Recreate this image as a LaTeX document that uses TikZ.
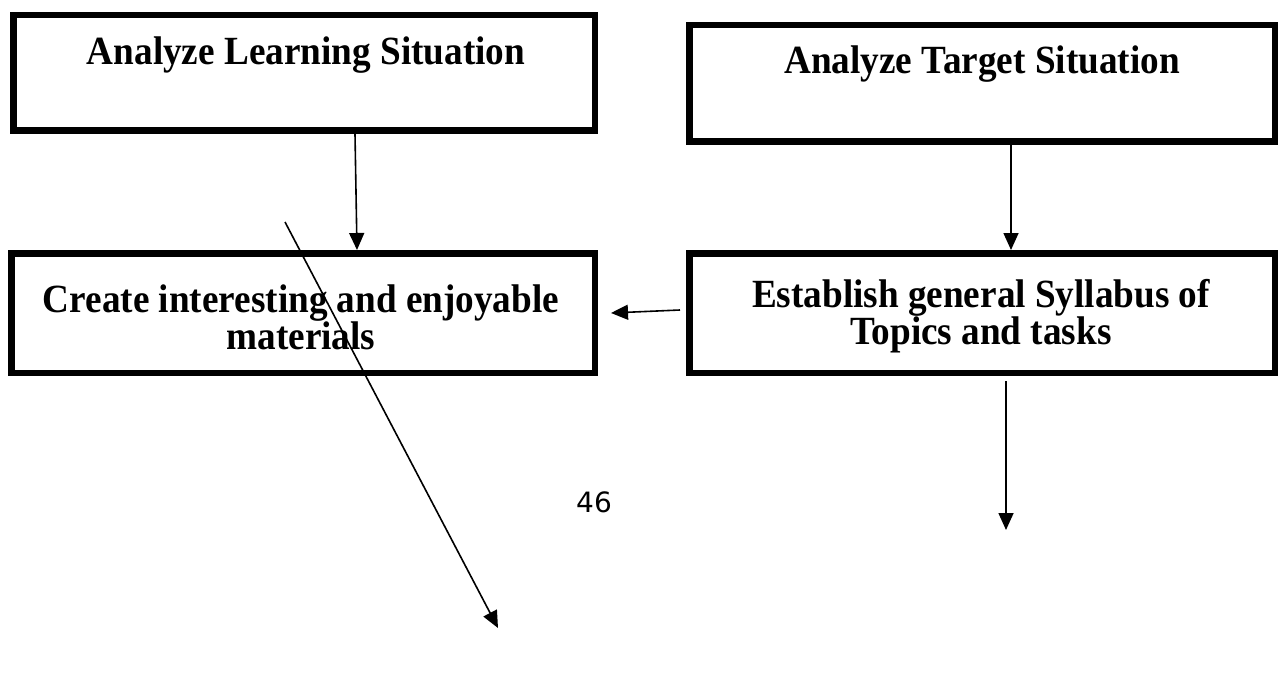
\documentclass[tikz,border=0pt]{standalone}
\usepackage{fontspec}
\setmainfont{Liberation Serif}
\newfontfamily\boxfont{Liberation Serif}[FakeStretch=0.93]
\newfontfamily\pagenofont{DejaVu Sans}
\usetikzlibrary{arrows.meta}
\begin{document}
\begin{tikzpicture}[x=1pt,y=-1pt,
  stagebox/.style={draw=black, line width=6.5pt, fill=white, inner sep=0pt},
  stagetext/.style={align=center, font=\boxfont\fontsize{40}{37}\selectfont\bfseries, inner sep=0pt},
  flow/.style={line width=1.6pt, -{Triangle[length=17pt,width=15pt]}}]
  \useasboundingbox (0,0) rectangle (1282,679);

  % free ends of the loose connectors
  \coordinate (d0) at (285,222);
  \coordinate (d1) at (498,628);
  \coordinate (e4) at (1006,530);

  % the four stage boxes
  \node[stagebox, minimum width=581.5pt, minimum height=115.5pt] (b1) at (304,73) {};
  \node[stagebox, minimum width=585.5pt, minimum height=116.5pt] (b2) at (982,83.5) {};
  \node[stagebox, minimum width=583.5pt, minimum height=119.5pt] (b3) at (303,313) {};
  \node[stagebox, minimum width=585.5pt, minimum height=119.5pt] (b4) at (982,313) {};

  % box captions
  \node[stagetext] (t1) at (306,55) {Analyze Learning Situation};
  \node[stagetext] (t2) at (982,64) {Analyze Target Situation};
  \node[stagetext] (t3) at (301,317) {Create interesting and enjoyable\\materials};
  \node[stagetext] (t4) at (981,316) {Establish general Syllabus of\\Topics and tasks};

  % arrows between the stages
  \draw[flow] ([xshift=51pt]b1.south) -- ([xshift=54pt]b3.north);
  \draw[flow] ([xshift=29pt]b2.south) -- ([xshift=29pt]b4.north);
  \draw[flow] ([xshift=-6pt,yshift=3pt]b4.west) -- ([xshift=13pt]b3.east);
  \draw[flow] ([xshift=24pt,yshift=-5pt]b4.south) -- (e4);
  \draw[flow] (d0) -- (d1);

  % page number
  \node[font=\pagenofont\fontsize{28}{30}\selectfont, inner sep=0pt] (pg) at (594,502) {46};
\end{tikzpicture}
\end{document}
